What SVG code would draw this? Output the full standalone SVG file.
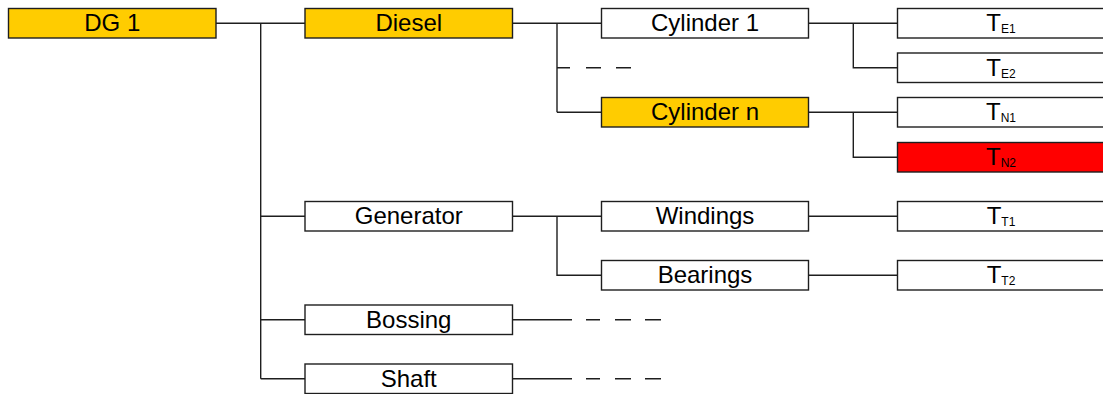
<svg xmlns="http://www.w3.org/2000/svg" width="1103" height="394" viewBox="0 0 1103 394">
<style>
.box{stroke:#1e1e1e;stroke-width:1.4;fill:#fff}
.gold{fill:#FFCC00}
.red{fill:#FF0000}
.lbl{font-family:"Liberation Sans",Arial,sans-serif;font-size:24px;fill:#000;text-anchor:middle}
.sub{font-size:12px}
.wire{stroke:#1e1e1e;stroke-width:1.4;fill:none}
</style>
<rect width="1103" height="394" fill="#fff"/>
<g id="connectors">
<path class="wire" d="M216 23.25 H305 M260.7 23.25 V378.75 M260.7 216.25 H305 M260.7 319.75 H305 M260.7 378.75 H305"/>
<path class="wire" d="M512.5 23.25 H601.5 M557 23.25 V112.25 M557 112.25 H601.5 M557 67.75 H570 M586 67.75 H601 M616 67.75 H631"/>
<path class="wire" d="M808.5 23.25 H897.5 M853.3 23.25 V67.75 H897.5"/>
<path class="wire" d="M808.5 112.25 H897.5 M853.3 112.25 V157.25 H897.5"/>
<path class="wire" d="M512.5 216.25 H601.5 M557 216.25 V275.25 H601.5"/>
<path class="wire" d="M808.5 216.25 H897.5 M808.5 275.25 H897.5"/>
<path class="wire" d="M512.5 319.75 H572 M586 319.75 H600 M615 319.75 H631 M645 319.75 H661"/>
<path class="wire" d="M512.5 378.75 H572 M586 378.75 H600 M615 378.75 H631 M645 378.75 H661"/>
</g>
<g id="dg1"><rect class="box gold" x="8.5" y="8.5" width="207.5" height="29.5"/><text class="lbl" x="112.25" y="31.2">DG 1</text></g>
<g id="diesel"><rect class="box gold" x="305" y="8.5" width="207.5" height="29.5"/><text class="lbl" x="408.75" y="31.2">Diesel</text></g>
<g id="generator"><rect class="box" x="305" y="201.5" width="207.5" height="29.5"/><text class="lbl" x="408.75" y="224.2">Generator</text></g>
<g id="bossing"><rect class="box" x="305" y="305" width="207.5" height="29.5"/><text class="lbl" x="408.75" y="327.7">Bossing</text></g>
<g id="shaft"><rect class="box" x="305" y="364" width="207.5" height="29.5"/><text class="lbl" x="408.75" y="386.7">Shaft</text></g>
<g id="cylinder1"><rect class="box" x="601.5" y="8.5" width="207" height="29.5"/><text class="lbl" x="705" y="31.2">Cylinder 1</text></g>
<g id="cylindern"><rect class="box gold" x="601.5" y="97.5" width="207" height="29.5"/><text class="lbl" x="705" y="120.2">Cylinder n</text></g>
<g id="windings"><rect class="box" x="601.5" y="201.5" width="207" height="29.5"/><text class="lbl" x="705" y="224.2">Windings</text></g>
<g id="bearings"><rect class="box" x="601.5" y="260.5" width="207" height="29.5"/><text class="lbl" x="705" y="283.2">Bearings</text></g>
<g id="te1"><rect class="box" x="897.5" y="8.5" width="207" height="29.5"/><text class="lbl" x="1001" y="31.2">T<tspan class="sub" dy="1.8">E1</tspan></text></g>
<g id="te2"><rect class="box" x="897.5" y="53" width="207" height="29.5"/><text class="lbl" x="1001" y="75.7">T<tspan class="sub" dy="1.8">E2</tspan></text></g>
<g id="tn1"><rect class="box" x="897.5" y="97.5" width="207" height="29.5"/><text class="lbl" x="1001" y="120.2">T<tspan class="sub" dy="1.8">N1</tspan></text></g>
<g id="tn2"><rect class="box red" x="897.5" y="142.5" width="207" height="29.5"/><text class="lbl" x="1001" y="165.2">T<tspan class="sub" dy="1.8">N2</tspan></text></g>
<g id="tt1"><rect class="box" x="897.5" y="201.5" width="207" height="29.5"/><text class="lbl" x="1001" y="224.2">T<tspan class="sub" dy="1.8">T1</tspan></text></g>
<g id="tt2"><rect class="box" x="897.5" y="260.5" width="207" height="29.5"/><text class="lbl" x="1001" y="283.2">T<tspan class="sub" dy="1.8">T2</tspan></text></g>
</svg>
